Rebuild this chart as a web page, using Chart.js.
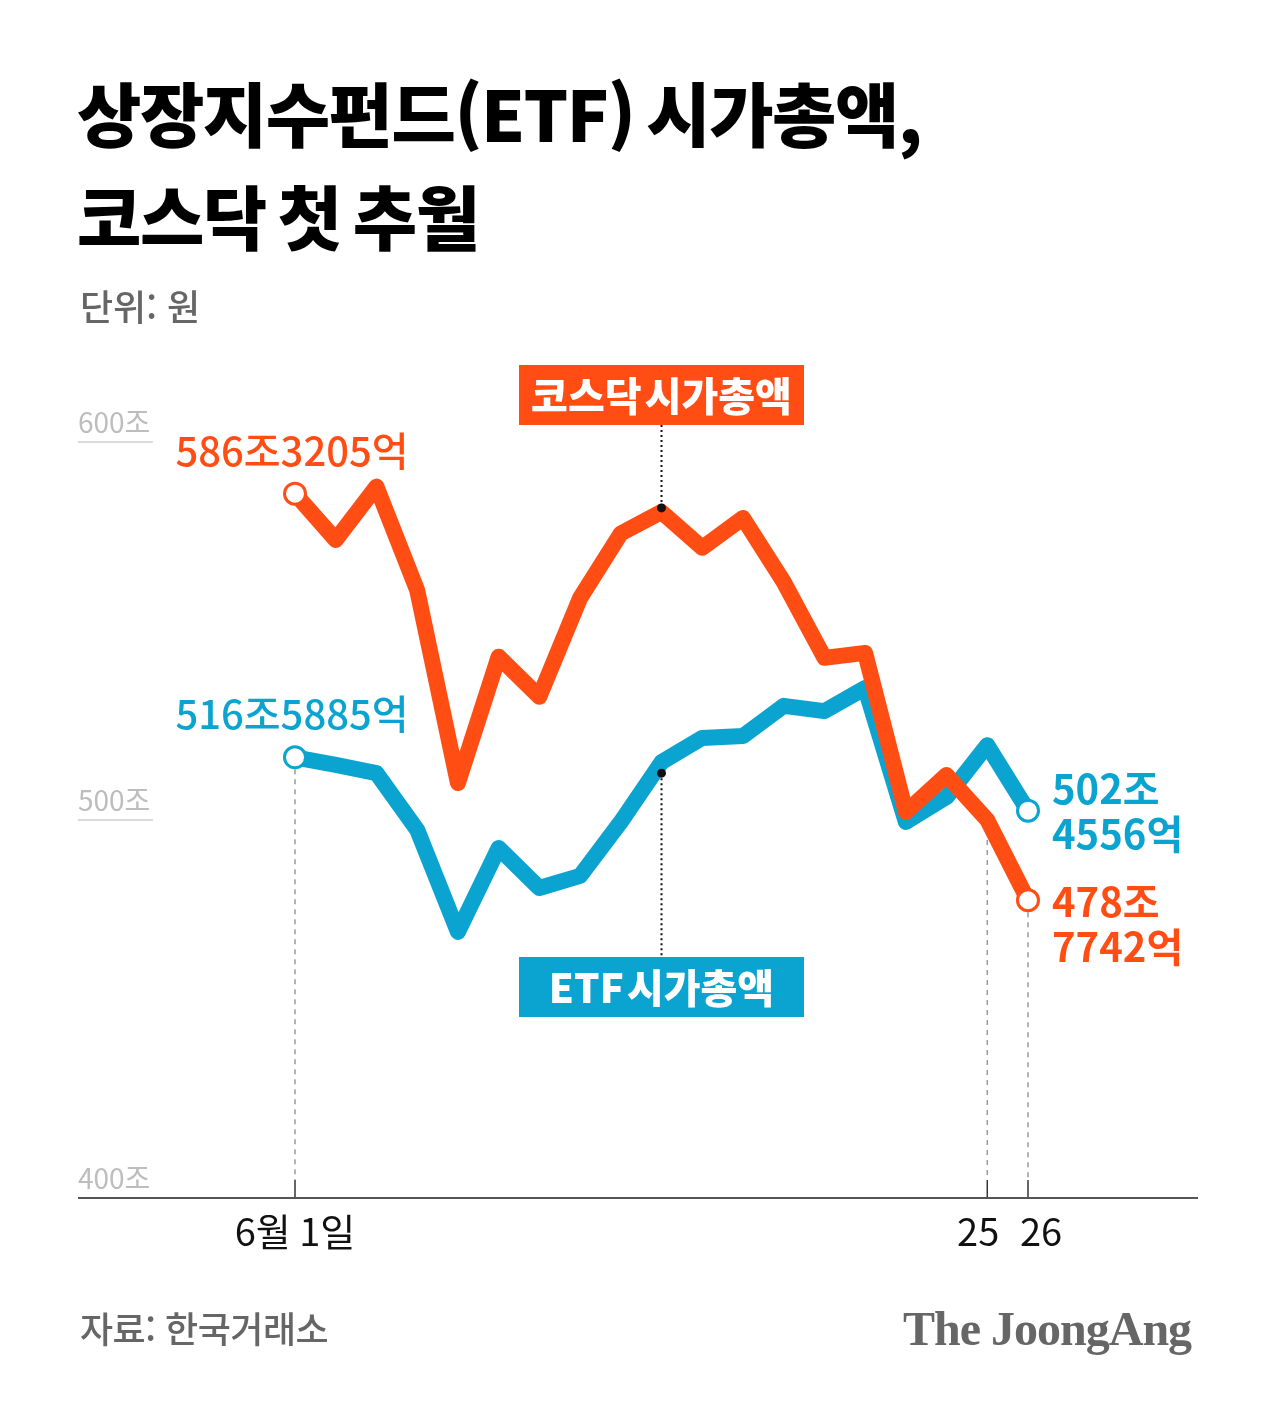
<!DOCTYPE html>
<html lang="ko">
<head>
<meta charset="utf-8">
<script src="https://cdn.jsdelivr.net/npm/chart.js@4.4.0/dist/chart.umd.min.js"></script>
<style>
  html, body { margin: 0; padding: 0; background: #fff; }
  #wrap { position: relative; width: 1280px; height: 1405px; overflow: hidden; font-family: 'Noto Sans CJK KR', 'Noto Sans', sans-serif; }
  #c { position: absolute; left: 0; top: 0; }
  .t { position: absolute; white-space: nowrap; line-height: 1; }
  #title1, #title2 { left: 77px; font-size: 70px; font-weight: 900; color: #000; letter-spacing: -1.5px; word-spacing: -6px; }
  #title1 { top: 77px; }
  #title2 { top: 180px; }
  #unit { left: 80px; top: 287px; font-size: 36px; color: #666; font-weight: 500; letter-spacing: 0px; }
  #source { left: 80px; top: 1309px; font-size: 36px; color: #666; font-weight: 500; letter-spacing: -0.5px; }
  #brand { left: 903px; top: 1305px; font-size: 48px; color: #666; font-weight: bold; font-family: 'Liberation Serif', 'DejaVu Serif', serif; letter-spacing: -1px; }
</style>
</head>
<body>
<div id="wrap">
  <canvas id="c" width="1280" height="1405"></canvas>
  <div class="t" id="title1">상장지수펀드(ETF) 시가총액,</div>
  <div class="t" id="title2">코스닥 첫 추월</div>
  <div class="t" id="unit">단위: 원</div>
  <div class="t" id="source">자료: 한국거래소</div>
  <div class="t" id="brand">The JoongAng</div>
</div>
<script>
// ---- data ----
const categories = ['6월 1일','','','','','','','','','','','','','','','','','25','26'];
const kosdaqValues = [586.32, 574.1, 588.2, 560.8, 509.8, 543.2, 532.6, 558.7, 575.8, 581.5, 572.0, 579.9, 563.0, 542.9, 544.2, 502.1, 511.9, 500.0, 478.77];
const etfValues    = [516.59, 514.6, 512.4, 497.4, 470.4, 492.6, 482.0, 485.2, 499.5, 515.3, 521.7, 522.2, 530.2, 528.8, 534.9, 499.5, 506.1, 519.8, 502.46];
const yTicks = [400, 500, 600];
const yTickLabels = ['400조', '500조', '600조'];
const seriesNames = ['코스닥 시가총액', 'ETF 시가총액'];
const firstValueLabels = ['586조3205억', '516조5885억'];
const lastValueLabels = [['478조', '7742억'], ['502조', '4556억']];
const calloutIndex = 9;

// ---- style ----
const ORANGE = '#FF4D14';
const BLUE = '#0BA3D0';
const FONT = "'Noto Sans CJK KR', 'Noto Sans', sans-serif";
const n = categories.length;

function endPointRadius(ctx) { return (ctx.dataIndex === 0 || ctx.dataIndex === n - 1) ? 10.5 : 0; }

const decor = {
  id: 'decor',
  beforeDatasetsDraw(chart) {
    const c = chart.ctx, x = chart.scales.x, y = chart.scales.y;
    c.save();
    // y tick labels + short grid lines
    c.font = '28px ' + FONT;
    c.fillStyle = '#bdbdbd';
    c.textAlign = 'left';
    c.textBaseline = 'alphabetic';
    yTicks.forEach((v, i) => {
      const py = y.getPixelForValue(v);
      c.fillText(yTickLabels[i], 78, py - 9);
      c.strokeStyle = '#cfcfcf';
      c.lineWidth = 1.5;
      c.beginPath(); c.moveTo(78, py); c.lineTo(153, py); c.stroke();
    });
    const base = y.getPixelForValue(yTicks[0]);
    // dashed guide lines
    c.strokeStyle = '#9a9a9a';
    c.lineWidth = 1.5;
    c.setLineDash([5, 5]);
    const guides = [
      [0, y.getPixelForValue(etfValues[0]) + 12],
      [n - 2, y.getPixelForValue(kosdaqValues[n - 2]) + 10],
      [n - 1, y.getPixelForValue(kosdaqValues[n - 1]) + 12]
    ];
    guides.forEach(([i, top]) => {
      const px = x.getPixelForValue(i);
      c.beginPath(); c.moveTo(px, top); c.lineTo(px, base - 18); c.stroke();
    });
    c.setLineDash([]);
    // solid ticks
    c.strokeStyle = '#333';
    c.lineWidth = 1.5;
    [0, n - 2, n - 1].forEach(i => {
      const px = x.getPixelForValue(i);
      c.beginPath(); c.moveTo(px, base - 18); c.lineTo(px, base); c.stroke();
    });
    // axis line
    c.strokeStyle = '#555';
    c.lineWidth = 2;
    c.beginPath(); c.moveTo(78, base); c.lineTo(1198, base); c.stroke();
    // x labels
    c.fillStyle = '#111';
    c.font = '38px ' + FONT;
    c.textAlign = 'center';
    c.fillText(categories[0], x.getPixelForValue(0), base + 48);
    c.textAlign = 'right';
    c.fillText(categories[n - 2], x.getPixelForValue(n - 2) + 12, base + 48);
    c.textAlign = 'left';
    c.fillText(categories[n - 1], x.getPixelForValue(n - 1) - 8, base + 48);

    // callout dotted lines
    const cx = x.getPixelForValue(calloutIndex);
    const oy = y.getPixelForValue(kosdaqValues[calloutIndex]) - 4;
    const by = y.getPixelForValue(etfValues[calloutIndex]) + 11;
    c.strokeStyle = '#111';
    c.lineWidth = 2;
    c.setLineDash([2, 3]);
    c.beginPath(); c.moveTo(cx, 425); c.lineTo(cx, oy); c.stroke();
    c.beginPath(); c.moveTo(cx, by); c.lineTo(cx, 957); c.stroke();
    c.setLineDash([]);
    c.restore();
  },
  afterDatasetsDraw(chart) {
    const c = chart.ctx, x = chart.scales.x, y = chart.scales.y;
    c.save();
    const cx = x.getPixelForValue(calloutIndex);
    const oy = y.getPixelForValue(kosdaqValues[calloutIndex]) - 4;
    const by = y.getPixelForValue(etfValues[calloutIndex]) + 11;
    c.fillStyle = '#111';
    [oy, by].forEach(py => { c.beginPath(); c.arc(cx, py, 4.5, 0, Math.PI * 2); c.fill(); });
    // callout boxes
    const boxW = 285, boxH = 60;
    c.font = '900 40px ' + FONT;
    c.wordSpacing = '-6px';
    c.textAlign = 'center';
    c.textBaseline = 'middle';
    c.fillStyle = ORANGE;
    c.fillRect(cx - boxW / 2, 365, boxW, boxH);
    c.fillStyle = '#fff';
    c.fillText(seriesNames[0], cx, 365 + boxH / 2 + 1);
    c.fillStyle = BLUE;
    c.fillRect(cx - boxW / 2, 957, boxW, boxH);
    c.fillStyle = '#fff';
    c.fillText(seriesNames[1], cx, 957 + boxH / 2 + 1);
    c.wordSpacing = '0px';

    // value labels
    c.textBaseline = 'alphabetic';
    c.font = '500 40px ' + FONT;
    c.textAlign = 'center';
    const x0 = x.getPixelForValue(0);
    c.fillStyle = ORANGE;
    c.fillText(firstValueLabels[0], x0 - 3, y.getPixelForValue(kosdaqValues[0]) - 28);
    c.fillStyle = BLUE;
    c.fillText(firstValueLabels[1], x0 - 3, y.getPixelForValue(etfValues[0]) - 28);

    const xl = x.getPixelForValue(n - 1);
    c.font = 'bold 40px ' + FONT;
    c.textAlign = 'left';
    const ey = y.getPixelForValue(etfValues[n - 1]);
    c.fillStyle = BLUE;
    c.fillText(lastValueLabels[1][0], xl + 24, ey - 7);
    c.fillText(lastValueLabels[1][1], xl + 24, ey + 38);
    const ky = y.getPixelForValue(kosdaqValues[n - 1]);
    c.fillStyle = ORANGE;
    c.fillText(lastValueLabels[0][0], xl + 24, ky + 17);
    c.fillText(lastValueLabels[0][1], xl + 24, ky + 62);
    c.restore();
  }
};

new Chart(document.getElementById('c'), {
  type: 'line',
  data: {
    labels: categories,
    datasets: [
      {
        label: seriesNames[0],
        data: kosdaqValues,
        borderColor: ORANGE,
        borderWidth: 16,
        borderJoinStyle: 'round',
        borderCapStyle: 'round',
        pointRadius: endPointRadius,
        pointBackgroundColor: '#fff',
        pointBorderColor: ORANGE,
        pointBorderWidth: 3,
        pointHoverRadius: endPointRadius,
        tension: 0,
        clip: false
      },
      {
        label: seriesNames[1],
        data: etfValues,
        borderColor: BLUE,
        borderWidth: 16,
        borderJoinStyle: 'round',
        borderCapStyle: 'round',
        pointRadius: endPointRadius,
        pointBackgroundColor: '#fff',
        pointBorderColor: BLUE,
        pointBorderWidth: 3,
        pointHoverRadius: endPointRadius,
        tension: 0,
        clip: false
      }
    ]
  },
  options: {
    responsive: false,
    animation: false,
    devicePixelRatio: 1,
    layout: { padding: { left: 295, right: 252, top: 442, bottom: 207 } },
    plugins: { legend: { display: false }, tooltip: { enabled: false } },
    scales: {
      x: { type: 'category', display: false, offset: false },
      y: { type: 'linear', display: false, min: yTicks[0], max: yTicks[yTicks.length - 1] }
    }
  },
  plugins: [decor]
});
</script>
</body>
</html>
